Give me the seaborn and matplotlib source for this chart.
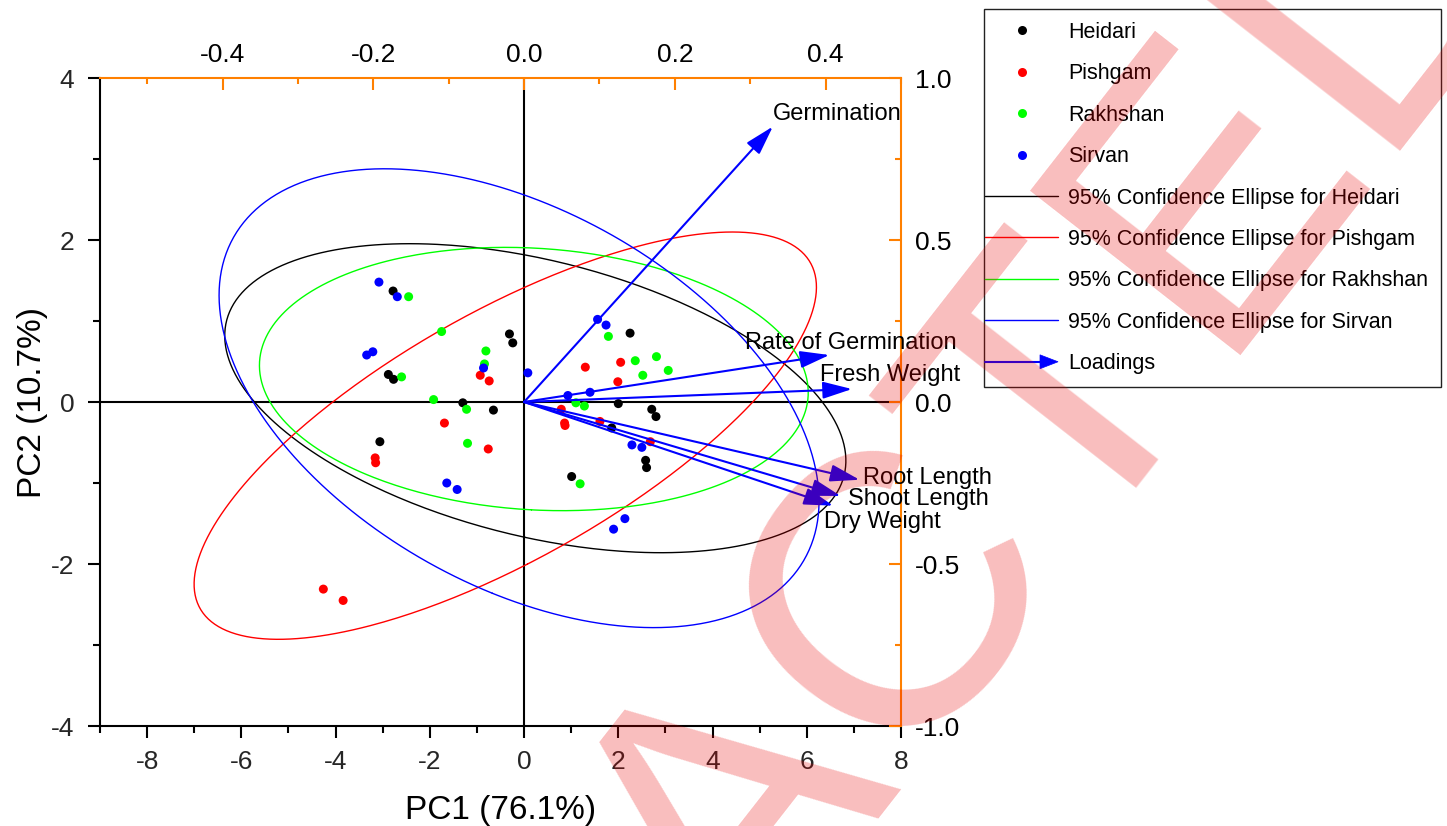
import numpy as np
import pandas as pd
import matplotlib
matplotlib.use("Agg")
import matplotlib.pyplot as plt
import seaborn as sns
from matplotlib.lines import Line2D
from matplotlib.patches import Polygon
from matplotlib.legend_handler import HandlerLine2D, HandlerBase
from matplotlib.ticker import MultipleLocator, FixedLocator, FixedFormatter

# ---------------- data ----------------
cultivars = ["Heidari", "Pishgam", "Rakhshan", "Sirvan"]
colors = ["#000000", "#FF0000", "#00FF00", "#0000FF"]

heidari_pc1 = [-2.78, -0.31, -0.24, -2.88, -2.77, -1.30, -0.65, -3.06,
               2.25, 2.00, 2.71, 2.80, 1.86, 2.58, 2.60, 1.01]
heidari_pc2 = [1.37, 0.84, 0.73, 0.34, 0.28, -0.01, -0.10, -0.49,
               0.85, -0.02, -0.09, -0.18, -0.32, -0.72, -0.81, -0.92]

pishgam_pc1 = [-0.93, -0.74, -1.69, -0.76, -3.16, -3.15, -4.26, -3.84,
               1.30, 2.05, 1.99, 0.79, 0.86, 0.87, 1.61, 2.68]
pishgam_pc2 = [0.33, 0.26, -0.26, -0.58, -0.69, -0.75, -2.31, -2.45,
               0.43, 0.49, 0.25, -0.09, -0.26, -0.29, -0.24, -0.49]

rakhshan_pc1 = [-2.45, -1.75, -0.81, -0.84, -2.60, -1.92, -1.22, -1.20,
                1.79, 2.36, 2.81, 2.52, 3.06, 1.10, 1.28, 1.19]
rakhshan_pc2 = [1.30, 0.87, 0.63, 0.47, 0.31, 0.03, -0.09, -0.51,
                0.81, 0.51, 0.56, 0.33, 0.39, -0.01, -0.05, -1.01]

sirvan_pc1 = [-3.08, -2.69, -3.34, -3.21, -0.86, 0.08, -1.64, -1.42,
              1.56, 1.74, 0.93, 1.40, 2.29, 2.50, 2.14, 1.90]
sirvan_pc2 = [1.48, 1.30, 0.58, 0.62, 0.42, 0.36, -1.00, -1.08,
              1.02, 0.95, 0.08, 0.12, -0.53, -0.56, -1.44, -1.57]

loading_vars = ["Germination", "Rate of Germination", "Fresh Weight",
                "Root Length", "Shoot Length", "Dry Weight"]
loading_pc1 = [0.33, 0.405, 0.435, 0.445, 0.42, 0.41]
loading_pc2 = [0.85, 0.145, 0.04, -0.24, -0.29, -0.32]

x_ticks = [-8, -6, -4, -2, 0, 2, 4, 6, 8]
y_ticks = [-4, -2, 0, 2, 4]
top_ticks = [-0.4, -0.2, 0.0, 0.2, 0.4]
top_labels = ["-0.4", "-0.2", "0.0", "0.2", "0.4"]
right_ticks = [-1.0, -0.5, 0.0, 0.5, 1.0]
right_labels = ["-1.0", "-0.5", "0.0", "0.5", "1.0"]

scores = pd.DataFrame({
    "PC1": heidari_pc1 + pishgam_pc1 + rakhshan_pc1 + sirvan_pc1,
    "PC2": heidari_pc2 + pishgam_pc2 + rakhshan_pc2 + sirvan_pc2,
    "Cultivar": sum([[c] * 16 for c in cultivars], []),
})

# ---------------- style ----------------
sns.set_theme(style="white")
plt.rcParams["font.family"] = ["Liberation Sans", "DejaVu Sans"]
plt.rcParams["axes.unicode_minus"] = False
ORANGE = "#FF8000"
W, H = 1447, 826

fig = plt.figure(figsize=(W / 100, H / 100), dpi=100)
rect = [100 / W, 100 / H, 801 / W, 648 / H]
ax = fig.add_axes(rect)
ax2 = fig.add_axes(rect, facecolor="none")

# score axes (bottom / left)
ax.set_xlim(-9, 8)
ax.set_ylim(-4, 4)
ax.xaxis.set_major_locator(FixedLocator(x_ticks))
ax.xaxis.set_minor_locator(MultipleLocator(1))
ax.yaxis.set_major_locator(FixedLocator(y_ticks))
ax.yaxis.set_minor_locator(MultipleLocator(1))
ax.tick_params(which="both", direction="out", top=False, right=False,
               bottom=True, left=True, width=1.5, color="black", labelsize=19)
ax.tick_params(which="major", length=8.5)
ax.tick_params(which="minor", length=5)
ax.tick_params(axis="x", pad=9)
ax.tick_params(axis="y", pad=10)
for s in ["top", "right"]:
    ax.spines[s].set_visible(False)
for s in ["left", "bottom"]:
    ax.spines[s].set_color("black")
    ax.spines[s].set_linewidth(1.5)

ax.axhline(0, color="black", lw=1.5, zorder=1)
ax.axvline(0, color="black", lw=1.5, zorder=1)


def confidence_ellipse(x, y, p=0.95, npts=400):
    x = np.asarray(x)
    y = np.asarray(y)
    n = len(x)
    f = (n - 2) / 2 * ((1 - p) ** (-2 / (n - 2)) - 1)  # F(p; 2, n-2)
    k = np.sqrt(2 * (n + 1) * (n - 1) / (n * (n - 2)) * f)
    vals, vecs = np.linalg.eigh(np.cov(x, y))
    t = np.linspace(0, 2 * np.pi, npts)
    circ = np.vstack([np.cos(t), np.sin(t)])
    pts = vecs @ (np.sqrt(vals)[:, None] * circ) * k
    return x.mean() + pts[0], y.mean() + pts[1]


groups = [(heidari_pc1, heidari_pc2), (pishgam_pc1, pishgam_pc2),
          (rakhshan_pc1, rakhshan_pc2), (sirvan_pc1, sirvan_pc2)]
for (gx, gy), col in zip(groups, colors):
    ex, ey = confidence_ellipse(gx, gy)
    ax.plot(ex, ey, color=col, lw=1.0, zorder=2)

sns.scatterplot(data=scores, x="PC1", y="PC2", hue="Cultivar",
                palette=dict(zip(cultivars, colors)), s=42, edgecolor="none",
                linewidth=0, legend=False, ax=ax, zorder=3)
ax.set_xlabel("PC1 (76.1%)", fontsize=24, labelpad=15, color="black")
ax.set_ylabel("PC2 (10.7%)", fontsize=24, labelpad=2, color="black")

# loading axes (top / right)
ax2.set_xlim(-9 / 16, 8 / 16)
ax2.set_ylim(-1, 1)
ax2.xaxis.tick_top()
ax2.yaxis.tick_right()
ax2.xaxis.set_major_locator(FixedLocator(top_ticks))
ax2.xaxis.set_major_formatter(FixedFormatter(top_labels))
ax2.xaxis.set_minor_locator(MultipleLocator(0.1))
ax2.yaxis.set_major_locator(FixedLocator(right_ticks))
ax2.yaxis.set_major_formatter(FixedFormatter(right_labels))
ax2.yaxis.set_minor_locator(MultipleLocator(0.25))
ax2.tick_params(which="both", direction="in", color=ORANGE, width=1.5,
                labelsize=19, labelcolor="black", pad=10)
ax2.tick_params(which="major", length=8.5)
ax2.tick_params(which="minor", length=4.5)
ax2.tick_params(axis="x", pad=8)
for s in ["left", "bottom"]:
    ax2.spines[s].set_visible(False)
for s in ["top", "right"]:
    ax2.spines[s].set_color(ORANGE)
    ax2.spines[s].set_linewidth(1.5)
ax2.grid(False)
ax.grid(False)

label_offsets = {
    "Germination": (0, 13),
    "Rate of Germination": (-84, 12),
    "Fresh Weight": (-32, 14),
    "Root Length": (3, 2),
    "Shoot Length": (7, -3),
    "Dry Weight": (-9, -16),
}
for name, lx, ly in zip(loading_vars, loading_pc1, loading_pc2):
    ax2.annotate("", xy=(lx, ly), xytext=(0, 0),
                 arrowprops=dict(arrowstyle="-|>,head_length=1.2,head_width=0.35",
                                 color="#0000FF", lw=1.5, shrinkA=0, shrinkB=0,
                                 mutation_scale=15), zorder=4)
    dx, dy = label_offsets[name]
    ax2.annotate(name, xy=(lx, ly), xytext=(dx, dy), textcoords="offset pixels",
                 ha="left", va="center", fontsize=17, color="black", zorder=5)


# ---------------- legend ----------------
class ExtendedLineHandler(HandlerLine2D):
    def __init__(self, ext, **kw):
        super().__init__(**kw)
        self.ext = ext

    def create_artists(self, legend, orig_handle, xdescent, ydescent,
                       width, height, fontsize, trans):
        return super().create_artists(legend, orig_handle, xdescent + self.ext,
                                      ydescent, width + self.ext, height,
                                      fontsize, trans)


class ArrowHandler(HandlerBase):
    def __init__(self, ext, head_len, head_half, **kw):
        super().__init__(**kw)
        self.ext = ext
        self.head_len = head_len
        self.head_half = head_half

    def create_artists(self, legend, orig_handle, xdescent, ydescent,
                       width, height, fontsize, trans):
        x0 = -xdescent - self.ext
        x1 = -xdescent + width
        y = -ydescent + height / 2
        col = orig_handle.get_color()
        line = Line2D([x0, x1 - self.head_len], [y, y], color=col,
                      lw=orig_handle.get_linewidth(), transform=trans)
        head = Polygon([[x1 - self.head_len, y - self.head_half], [x1, y],
                        [x1 - self.head_len, y + self.head_half]],
                       closed=True, facecolor=col, edgecolor=col, lw=0.5,
                       transform=trans)
        return [line, head]


point_handles = [Line2D([], [], ls="none", marker="o", ms=6.5, color=c,
                        markeredgewidth=0) for c in colors]
ellipse_handles = [Line2D([], [], color=c, lw=1.0) for c in colors]
arrow_handle = Line2D([], [], color="#0000FF", lw=1.5)
handles = point_handles + ellipse_handles + [arrow_handle]
labels = cultivars + [f"95% Confidence Ellipse for {c}" for c in cultivars] + ["Loadings"]

ext = 8.4
hmap = {h: ExtendedLineHandler(ext) for h in point_handles + ellipse_handles}
hmap[arrow_handle] = ArrowHandler(ext, 13, 5)

leg = fig.legend(handles, labels, handler_map=hmap, loc="upper left",
                 bbox_to_anchor=(984 / W, 1 - 9 / H), bbox_transform=fig.transFigure,
                 fontsize=15.5, frameon=True, fancybox=False, edgecolor="#222222",
                 framealpha=1, borderpad=0.59, borderaxespad=0, labelspacing=0.95,
                 handlelength=2.85, handletextpad=0.47)
leg.get_frame().set_linewidth(1.0)
for t in leg.get_texts():
    t.set_color("black")

# watermark
fig.text(810 / W, 1 - 865 / H, "RETRACTED", rotation=52, rotation_mode="anchor",
         ha="center", va="baseline", fontsize=280, color="#E80000", alpha=0.26,
         zorder=100)

fig.savefig("out.png", dpi=100)
